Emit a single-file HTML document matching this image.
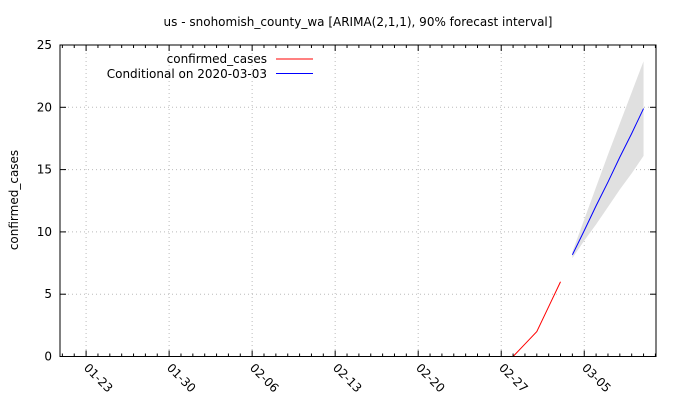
<!DOCTYPE html>
<html><head><meta charset="utf-8"><style>
body{margin:0;background:#fff}
svg{display:block;font-family:"DejaVu Sans","Liberation Sans",sans-serif;font-size:12px}
</style></head><body>
<svg id="chart" width="680" height="400" viewBox="0 0 680 400" xmlns="http://www.w3.org/2000/svg">
<text x="358" y="26" text-anchor="middle">us - snohomish_county_wa [ARIMA(2,1,1), 90% forecast interval]</text>
<text transform="translate(18,200) rotate(-90)" text-anchor="middle">confirmed_cases</text>
<g id="grid"></g><g id="band"></g><g id="lines"></g><g id="axes"></g>
<g>
<text x="267" y="63" text-anchor="end">confirmed_cases</text>
<line x1="276" y1="59" x2="313" y2="59" stroke="#f00"/>
<text x="267" y="78" text-anchor="end">Conditional on 2020-03-03</text>
<line x1="276" y1="73.5" x2="313" y2="73.5" stroke="#00f"/>
</g>
</svg>
<script>
// day index: 0 = 01-23 (2020, leap year)
const xTickLabels=["01-23","01-30","02-06","02-13","02-20","02-27","03-05"];
const xTickDays=[0,7,14,21,28,35,42];
const yTicks=[0,5,10,15,20,25];
const actualDays=[36,37,38,39,40];
const actualValues=[0,1,2,4,6];
const fcDays=[41,42,43,44,45,46,47];
const fcMean=[8.16,10.1,12.1,14.0,16.0,17.9,19.9];
const fcUpper=[8.4,11.0,13.6,16.2,18.7,21.2,23.7];
const fcLower=[7.9,9.3,10.6,12.0,13.4,14.7,16.1];

const L=60,R=656,T=45,B=356.5;
const xMin=-2.2,xMax=48.05;
const X=d=>L+(d-xMin)/(xMax-xMin)*(R-L);
const Y=v=>B-v/25*(B-T);
const NS="http://www.w3.org/2000/svg";
function mk(p,tag,a){const e=document.createElementNS(NS,tag);for(const k in a)e.setAttribute(k,a[k]);document.getElementById(p).appendChild(e);return e;}

yTicks.forEach(v=>{
  if(v>0&&v<25){const g=mk('grid','line',{x1:L,x2:R,y1:Y(v),y2:Y(v),stroke:'#bbb','stroke-dasharray':'1,3'});
  
  }
  mk('axes','line',{x1:L,x2:L+6,y1:Y(v),y2:Y(v),stroke:'#000'});
  mk('axes','line',{x1:R,x2:R-6,y1:Y(v),y2:Y(v),stroke:'#000'});
  const t=mk('axes','text',{x:L-8,y:Y(v)+4,'text-anchor':'end'});
  t.textContent=v;
  
  
});
for(let d=-2;d<=48;d++){
  const major=xTickDays.includes(d);const len=major?6:3;
  mk('axes','line',{x1:X(d),x2:X(d),y1:B,y2:B-len,stroke:'#000'});
  mk('axes','line',{x1:X(d),x2:X(d),y1:T,y2:T+len,stroke:'#000'});
}
xTickDays.forEach((d,i)=>{
  const g=mk('grid','line',{x1:X(d),x2:X(d),y1:T,y2:B,stroke:'#bbb','stroke-dasharray':'1,3'});
  
  
  const t=mk('axes','text',{transform:`translate(${X(d)-3},${B+12}) rotate(45)`});
  t.textContent=xTickLabels[i];
  
  
});
const fr=mk('axes','rect',{x:L,y:T,width:R-L,height:B-T,fill:'none',stroke:'#000'});



let bp=fcDays.map((d,i)=>X(d)+','+Y(fcUpper[i]));
bp=bp.concat(fcDays.map((d,i)=>X(d)+','+Y(fcLower[i])).reverse());
const band=mk('band','polygon',{points:bp.join(' '),fill:'#e0e0e0'});



const a=mk('lines','polyline',{points:actualDays.map((d,i)=>X(d)+','+Y(actualValues[i])).join(' '),fill:'none',stroke:'#f00'});


const f=mk('lines','polyline',{points:fcDays.map((d,i)=>X(d)+','+Y(fcMean[i])).join(' '),fill:'none',stroke:'#00f'});


</script>
</body></html>
